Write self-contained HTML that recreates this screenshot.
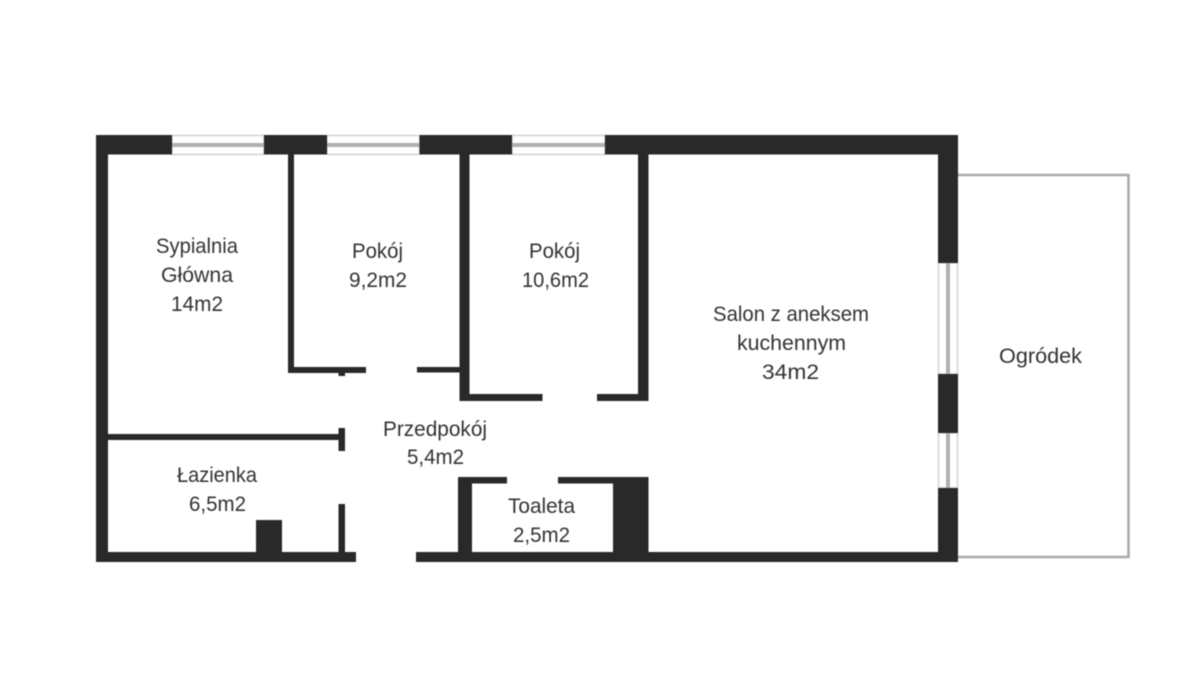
<!DOCTYPE html>
<html><head><meta charset="utf-8"><style>
html,body{margin:0;padding:0;background:#fff}
svg{display:block}
text{font-family:"Liberation Sans","DejaVu Sans",sans-serif;font-size:21px;fill:#333}
</style></head><body>
<svg width="1200" height="675" viewBox="0 0 1200 675" xmlns="http://www.w3.org/2000/svg" style="filter:blur(.4px)">
<rect width="1200" height="675" fill="#fff"/>
<!-- garden -->
<path d="M958 175H1128.500V557H958" fill="none" stroke="#a8aaa8" stroke-width="2.600"/>
<!-- windows -->
<g fill="#fff" stroke="#cfd0cb" stroke-width="1.400">
<rect x="172" y="135.500" width="92" height="19"/><rect x="327" y="135.500" width="92.500" height="19"/><rect x="512" y="135.500" width="93" height="19"/>
<rect x="938.500" y="263" width="19" height="111"/><rect x="938.500" y="433" width="19" height="55"/>
</g>
<g fill="#b0b1ac">
<rect x="172" y="143" width="92" height="4"/><rect x="327" y="143" width="92.500" height="4"/><rect x="512" y="143" width="93" height="4"/>
<rect x="946" y="263" width="4" height="111"/><rect x="946" y="433" width="4" height="55"/>
</g>
<!-- walls -->
<g fill="#292929">
<rect x="96" y="135" width="76" height="19.500"/><rect x="264" y="135" width="63" height="19.500"/><rect x="419.500" y="135" width="92.500" height="19.500"/><rect x="605" y="135" width="353" height="19.500"/>
<rect x="96" y="135" width="12" height="427"/>
<rect x="938" y="135" width="20" height="128"/><rect x="938" y="374" width="20" height="59"/><rect x="938" y="488" width="20" height="74"/>
<rect x="96" y="552" width="260" height="10"/><rect x="416" y="552" width="542" height="10"/>
<rect x="288" y="154" width="6" height="219"/><rect x="288" y="367" width="78" height="6"/><rect x="338.500" y="367" width="6.500" height="9"/>
<rect x="417" y="367" width="43" height="5.500"/>
<rect x="459.500" y="154" width="10" height="247"/><rect x="459.500" y="394" width="83" height="7"/>
<rect x="597" y="394" width="51" height="7"/><rect x="638" y="154" width="10.500" height="247"/>
<rect x="108" y="434" width="232" height="6"/><rect x="338.500" y="428" width="6.500" height="23"/>
<rect x="338.500" y="504" width="6.500" height="50"/>
<rect x="256" y="520" width="26" height="34"/>
<rect x="458" y="477" width="14" height="77"/><rect x="458" y="477" width="49" height="6.500"/>
<rect x="558" y="477" width="60" height="6.500"/><rect x="613" y="477" width="35.500" height="77"/>
</g>
<!-- labels -->
<text x="156" y="253" textLength="82" lengthAdjust="spacingAndGlyphs">Sypialnia</text>
<text x="161" y="282" textLength="72" lengthAdjust="spacingAndGlyphs">Główna</text>
<text x="171" y="311" textLength="52" lengthAdjust="spacingAndGlyphs">14m2</text>
<text x="352" y="258" textLength="51" lengthAdjust="spacingAndGlyphs">Pokój</text>
<text x="349" y="287" textLength="58" lengthAdjust="spacingAndGlyphs">9,2m2</text>
<text x="529" y="258" textLength="51" lengthAdjust="spacingAndGlyphs">Pokój</text>
<text x="522" y="287" textLength="67" lengthAdjust="spacingAndGlyphs">10,6m2</text>
<text x="713" y="321" textLength="156" lengthAdjust="spacingAndGlyphs">Salon z aneksem</text>
<text x="737" y="350" textLength="109" lengthAdjust="spacingAndGlyphs">kuchennym</text>
<text x="762" y="379" textLength="57" lengthAdjust="spacingAndGlyphs">34m2</text>
<text x="999" y="363" textLength="83" lengthAdjust="spacingAndGlyphs">Ogródek</text>
<text x="383" y="436" textLength="104" lengthAdjust="spacingAndGlyphs">Przedpokój</text>
<text x="407" y="464" textLength="57" lengthAdjust="spacingAndGlyphs">5,4m2</text>
<text x="177" y="482" textLength="80" lengthAdjust="spacingAndGlyphs">Łazienka</text>
<text x="189" y="511" textLength="57" lengthAdjust="spacingAndGlyphs">6,5m2</text>
<text x="508" y="513" textLength="67" lengthAdjust="spacingAndGlyphs">Toaleta</text>
<text x="513" y="542" textLength="57" lengthAdjust="spacingAndGlyphs">2,5m2</text>
</svg>
</body></html>
